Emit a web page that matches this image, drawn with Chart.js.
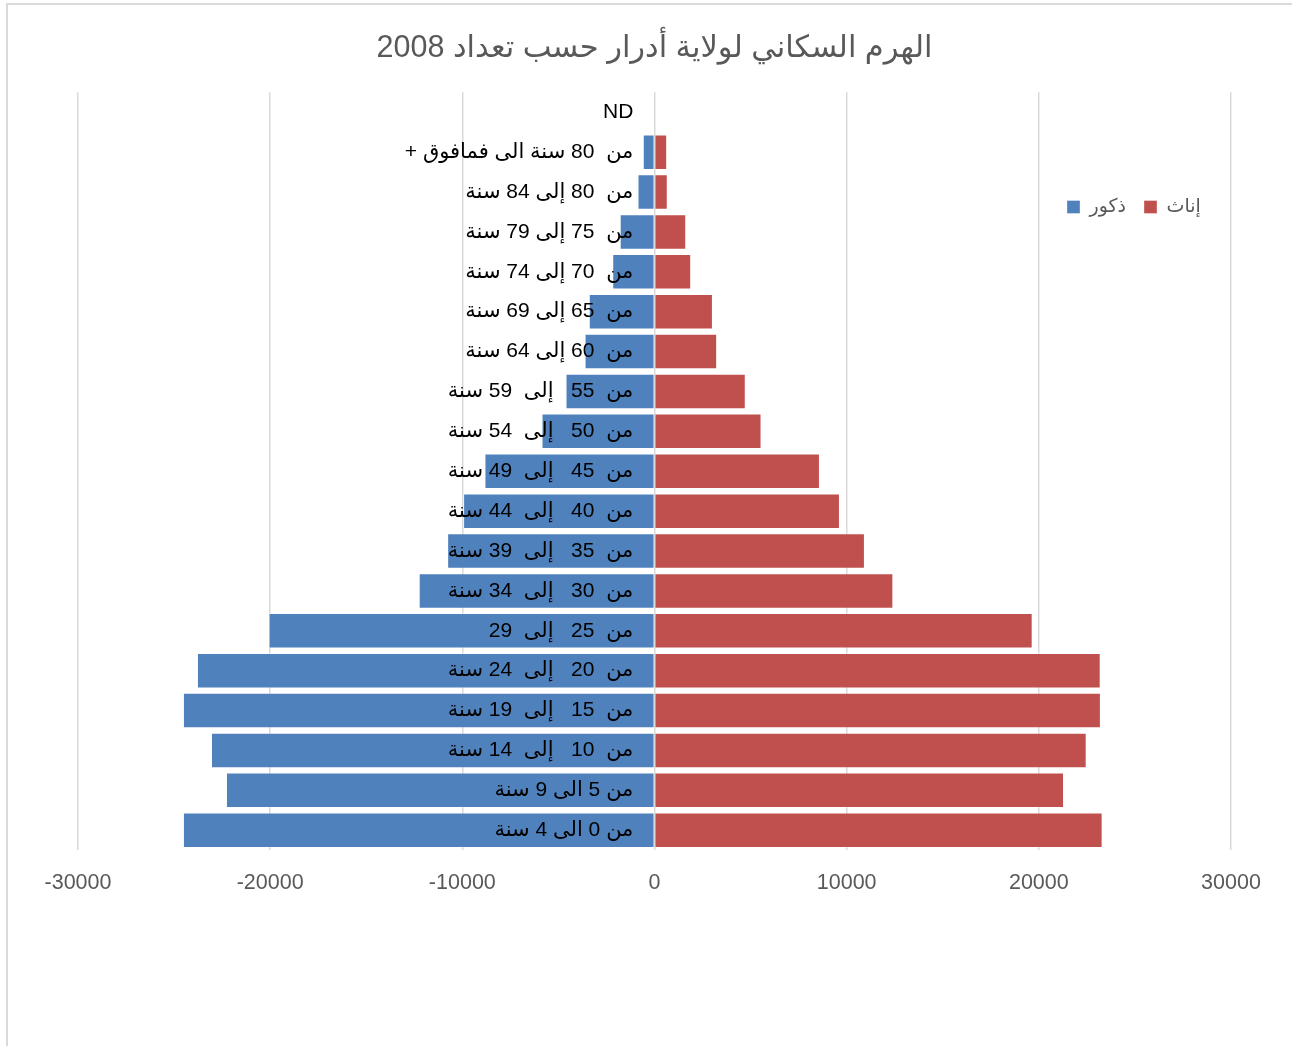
<!DOCTYPE html>
<html><head><meta charset="utf-8">
<script src="https://cdn.jsdelivr.net/npm/chart.js@4.4.1/dist/chart.umd.min.js"></script>
<style>
html,body{margin:0;padding:0;background:#fff;overflow:hidden;width:1292px;height:1046px;}
#frame{position:absolute;left:6px;top:3px;width:1400px;height:1100px;border:2px solid #d9d9d9;box-sizing:border-box;}
#wrap{position:absolute;left:0;top:0;width:1292px;height:1046px;}
</style></head><body>
<div id="frame"></div>
<div id="wrap"><canvas id="c" width="1292" height="1046"></canvas></div>
<script>
const chartTitle = 'الهرم السكاني لولاية أدرار حسب تعداد 2008';
const ageGroups = [
  'ND',
  'من  80 سنة الى فمافوق +',
  'من  80 إلى 84 سنة',
  'من  75 إلى 79 سنة',
  'من  70 إلى 74 سنة',
  'من  65 إلى 69 سنة',
  'من  60 إلى 64 سنة',
  'من  55   إلى  59 سنة',
  'من  50   إلى  54 سنة',
  'من  45   إلى  49 سنة',
  'من  40   إلى  44 سنة',
  'من  35   إلى  39 سنة',
  'من  30   إلى  34 سنة',
  'من  25   إلى  29',
  'من  20   إلى  24 سنة',
  'من  15   إلى  19 سنة',
  'من  10   إلى  14 سنة',
  'من 5 الى 9 سنة',
  'من 0 الى 4 سنة'
];
const maleLabel = 'ذكور';
const femaleLabel = 'إناث';
const males = [null, -610, -885, -1810, -2200, -3420, -3640, -4630, -5880, -8850, -9960, -10790, -12270, -20080, -23810, -24540, -23080, -22300, -24540];
const females = [null, 660, 690, 1650, 1910, 3040, 3260, 4750, 5570, 8610, 9650, 10950, 12430, 19680, 23220, 23230, 22490, 21310, 23320];
const xTickValues = [-30000, -20000, -10000, 0, 10000, 20000, 30000];

const RLM = '\u200F';
const FONT = '"Liberation Sans", Arial, "DejaVu Sans", sans-serif';

const legendMover = {
  id: 'legendMover',
  afterLayout(chart) {
    const lg = chart.legend;
    if (!lg) return;
    const pad = lg.options.labels.padding;
    const fs = lg.options.labels.font.size;
    const w = lg.width, h = lg.height;
    lg.left = 1067 - pad;
    lg.right = lg.left + w;
    lg.top = 207 - pad - fs / 2;
    lg.bottom = lg.top + h;
  }
};

new Chart(document.getElementById('c'), {
  type: 'bar',
  data: {
    labels: ageGroups,
    datasets: [
      { label: maleLabel, data: males, backgroundColor: '#4F81BD', borderColor: 'rgba(255,255,255,0.35)', borderWidth: 1, borderSkipped: 'start' },
      { label: femaleLabel, data: females, backgroundColor: '#C0504D', borderColor: 'rgba(255,255,255,0.35)', borderWidth: 1, borderSkipped: 'start' }
    ]
  },
  options: {
    indexAxis: 'y',
    responsive: false,
    animation: false,
    devicePixelRatio: 1,
    barPercentage: 0.89,
    categoryPercentage: 1,
    layout: { padding: { left: 78, right: 61, top: 0, bottom: 83 } },
    plugins: {
      title: {
        display: true,
        text: chartTitle,
        color: '#595959',
        font: { family: FONT, size: 30.5, weight: 'normal' },
        padding: { top: 30, bottom: 25.7 }
      },
      legend: {
        display: true,
        position: 'bottom',
        align: 'start',
        labels: {
          color: '#595959',
          font: { family: FONT, size: 19 },
          boxWidth: 13,
          boxHeight: 13,
          padding: 18
        }
      },
      tooltip: { enabled: false }
    },
    scales: {
      x: {
        type: 'linear',
        stacked: true,
        min: -30000,
        max: 30000,
        afterBuildTicks(scale) { scale.ticks = xTickValues.map(v => ({ value: v })); },
        grid: { color: '#d9d9d9', lineWidth: 1.5, drawTicks: false },
        border: { display: false },
        ticks: {
          color: '#595959',
          font: { family: FONT, size: 21.5 },
          padding: 20,
          callback: v => String(v)
        }
      },
      y: {
        type: 'category',
        stacked: true,
        position: { x: -1100 },
        grid: { display: false, drawTicks: false },
        border: { display: false },
        ticks: {
          z: 1,
          color: '#000000',
          padding: 0,
          font: { family: FONT, size: 21 },
          autoSkip: false,
          callback: function (v) { return RLM + this.getLabelForValue(v) + RLM; }
        }
      }
    }
  },
  plugins: [legendMover]
});
</script>
</body></html>
